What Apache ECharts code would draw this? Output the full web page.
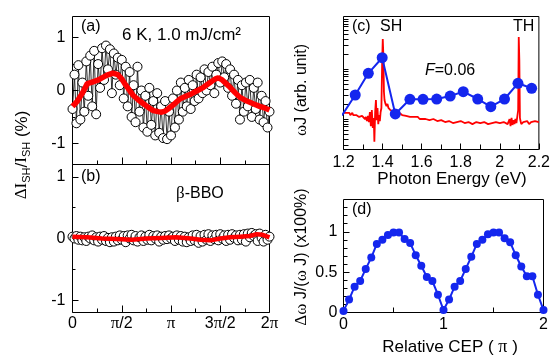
<!DOCTYPE html>
<html><head><meta charset="utf-8">
<script src="https://cdn.jsdelivr.net/npm/echarts@6/dist/echarts.min.js"></script>
<style>html,body{margin:0;padding:0;background:#fff}#c{width:553px;height:356px}</style>
</head><body><div id="c"></div>
<script>
// ---------- data ----------
// panel (a): relative CEP phase in units of pi, sampled every 0.02 pi
const phaseStep = 0.02;
const aCircles = [
 -0.35, 0.30, -0.62, 0.48, -0.55, 0.15, -0.40, 0.55, -0.10, 0.66,
 -0.30, 0.75, -0.45, 0.50, 0.05, 0.80, 0.20, 0.85, 0.40, 0.78,
 -0.05, 0.70, 0.30, 0.62, 0.10, 0.58, -0.15, 0.45, -0.30, 0.35,
 -0.50, 0.10, -0.60, 0.45, -0.40, 0.00, -0.70, -0.10, -0.78, 0.05,
 -0.65, -0.20, -0.85, -0.05, -0.80, -0.30, -0.90, -0.20, -0.92, -0.40,
 -0.85, -0.15, -0.70, 0.00, -0.55, 0.15, -0.40, 0.05, -0.30, 0.20,
 -0.35, 0.10, -0.20, 0.30, -0.15, 0.25, -0.05, 0.40, 0.00, 0.35,
 0.10, 0.45, -0.05, 0.30, 0.52, 0.15, 0.55, 0.25, 0.50, 0.05,
 0.40, -0.10, 0.30, -0.25, 0.20, -0.55, 0.10, -0.40, 0.15, -0.30,
 0.20, -0.50, 0.05, -0.35, 0.15, -0.55, -0.10, -0.60, -0.20, -0.70,
 -0.40
];
const aFitX = [0,0.05,0.1,0.15,0.2,0.25,0.3,0.35,0.41,0.46,0.5,0.53,0.58,0.62,0.67,0.72,0.77,0.82,0.87,0.905,0.94,0.97,1.03,1.09,1.15,1.21,1.27,1.33,1.39,1.45,1.48,1.52,1.56,1.6,1.65,1.7,1.77,1.835,1.9,1.95,2.0];
const aFitY = [-0.30,-0.2,-0.05,0.13,0.16,0.19,0.24,0.29,0.33,0.30,0.22,0.13,0.0,-0.1,-0.18,-0.25,-0.32,-0.38,-0.40,-0.41,-0.39,-0.35,-0.26,-0.16,-0.11,-0.06,0.0,0.06,0.14,0.22,0.24,0.2,0.13,0.06,-0.04,-0.13,-0.2,-0.25,-0.3,-0.33,-0.37];
// panel (b): beta-BBO reference
const bCircles = [
 0.03, 0.00, 0.04, -0.02, 0.03, -0.03, 0.02, -0.04, 0.03, 0.00,
 0.05, -0.03, 0.02, -0.05, 0.03, -0.02, 0.04, -0.04, 0.01, -0.06,
 0.02, -0.05, 0.03, -0.03, 0.05, -0.02, 0.04, -0.06, 0.05, 0.00,
 0.06, -0.03, 0.04, -0.05, 0.02, 0.05, -0.04, 0.03, -0.02, 0.06,
 -0.03, 0.04, 0.00, 0.05, -0.05, 0.03, -0.02, 0.04, -0.01, 0.05,
 0.00, 0.03, -0.04, 0.05, -0.02, 0.04, -0.05, 0.03, -0.06, 0.02,
 -0.04, 0.05, -0.03, 0.06, -0.07, 0.04, -0.05, 0.06, -0.02, 0.07,
 -0.04, 0.05, -0.01, 0.06, -0.03, 0.07, 0.00, 0.05, -0.04, 0.06,
 -0.02, 0.07, 0.01, 0.05, -0.03, 0.06, -0.02, 0.07, -0.05, 0.08,
 0.02, 0.09, 0.04, 0.07, -0.04, 0.08, 0.01, -0.05, 0.06, -0.02,
 0.03
];
const bFitX = [0,0.15,0.3,0.45,0.6,0.75,0.9,1.05,1.2,1.3,1.4,1.5,1.6,1.7,1.8,1.87,1.93,2.0];
const bFitY = [0.03,0.02,0.0,-0.01,-0.02,0.0,0.01,0.02,0.0,-0.02,-0.03,0.0,0.02,0.03,0.04,0.07,0.06,0.02];
// panel (c): spectrum (arb. unit, log scale)
const specE = [1.200,1.205,1.210,1.215,1.220,1.225,1.230,1.235,1.240,1.245,1.250,1.255,1.260,1.265,1.270,1.275,1.280,1.285,1.290,1.295,1.300,1.305,1.310,1.315,1.320,1.325,1.330,1.335,1.340,1.345,1.350,1.355,1.358,1.362,1.366,1.370,1.374,1.378,1.382,1.386,1.390,1.394,1.398,1.401,1.404,1.407,1.410,1.415,1.420,1.425,1.430,1.435,1.440,1.445,1.450,1.460,1.470,1.480,1.490,1.500,1.51,1.52,1.53,1.54,1.55,1.56,1.57,1.58,1.59,1.60,1.62,1.64,1.66,1.68,1.70,1.72,1.74,1.76,1.78,1.80,1.82,1.84,1.86,1.88,1.90,1.92,1.94,1.96,1.98,2.00,2.02,2.04,2.05,2.055,2.06,2.065,2.07,2.075,2.08,2.085,2.09,2.094,2.097,2.100,2.103,2.106,2.11,2.12,2.13,2.14,2.15,2.16,2.17,2.18,2.19,2.20];
const specI = [1.32,1.38,1.26,1.32,1.38,1.26,1.32,1.20,1.26,1.32,1.20,1.26,1.15,1.20,1.26,1.15,1.10,1.20,1.10,1.15,1.05,1.20,1.00,1.10,0.91,1.15,0.87,1.38,0.72,1.51,0.66,1.05,0.35,1.38,2.40,0.95,1.66,0.79,1.20,0.91,1.38,1.66,15.1,39.8,19.1,3.47,2.40,2.00,1.82,2.00,1.66,1.74,1.51,1.58,1.45,1.38,1.32,1.38,1.26,1.20,1.26,1.15,1.20,1.10,1.15,1.10,1.05,1.10,1.00,1.05,1.00,0.95,1.00,0.91,0.95,0.87,0.91,0.83,0.87,0.91,0.83,0.87,0.79,0.87,0.83,0.87,0.79,0.83,0.87,0.83,0.87,0.79,1.00,0.72,1.05,0.76,0.95,0.79,1.00,0.83,0.91,1.51,43.7,15.1,1.05,0.91,0.79,0.87,0.83,0.91,0.79,0.87,0.83,0.91,0.83,0.87];
const cDotE = [1.192,1.26,1.327,1.398,1.465,1.54,1.607,1.677,1.746,1.813,1.887,1.954,2.024,2.093,2.163];
const cDotI = [1.18,3.02,8.20,16.8,1.26,2.48,2.48,2.51,2.88,3.52,2.51,1.76,2.51,5.18,4.11];
const logTickVals = [0.3,0.4,0.5,0.6,0.7,0.8,0.9,1,2,3,4,5,6,7,8,9,10,20,30,40,50,60,70,80,90,100];
// panel (d): relative CEP (pi) vs modulation depth
const dStep = 1/18;
const dVals = [0.02,0.16,0.32,0.39,0.54,0.68,0.85,0.90,0.96,0.99,0.99,0.91,0.86,0.71,0.58,0.44,0.39,0.22,0.03,0.16,0.32,0.39,0.54,0.69,0.85,0.90,0.97,0.99,0.99,0.92,0.87,0.71,0.57,0.45,0.45,0.22,0.03];
// tick labels
const phaseTickVals = [0,0.5,1,1.5,2];
const phaseTickText = ['0','{g|\u03c0}/2','{g|\u03c0}','3{g|\u03c0}/2','2{g|\u03c0}'];
const abLabelVals = [-1,0,1];
const abMinorVals = [-0.5,0.5];
const dLabelVals = [0,0.5,1];
const dMinorVals = [0.1,0.2,0.3,0.4,0.6,0.7,0.8,0.9,1.1,1.2,1.3];

// ---------- chart ----------
const FONT = 'Liberation Sans';
const BLK = '#000';
const RED = '#ff0000';
const BLUE = '#1426ee';
const chart = echarts.init(document.getElementById('c'), null, {renderer:'canvas'});

const gridBase = {show:true, borderColor:BLK, borderWidth:1, containLabel:false, backgroundColor:'transparent'};
const lbl = (extra) => Object.assign({color:BLK, fontSize:16, fontFamily:FONT}, extra);
function xAx(grid, min, max, interval, split, showLabel, extra){
  return Object.assign({
    gridIndex:grid, type:'value', min, max, interval, position:'bottom',
    axisLine:{show:false, onZero:false},
    axisTick:{inside:true, length:7, lineStyle:{color:BLK}},
    minorTick:{show:true, splitNumber:split, length:4, lineStyle:{color:BLK}},
    splitLine:{show:false}, minorSplitLine:{show:false},
    axisLabel: lbl({show:showLabel})
  }, extra||{});
}
function yAx(grid, min, max, tickVals, labelVals, len, margin){
  return {
    gridIndex:grid, type:'value', min, max, position:'left',
    axisLine:{show:false, onZero:false},
    axisTick:{show:true, inside:true, length:len, customValues:tickVals, lineStyle:{color:BLK}},
    axisLabel: labelVals ? lbl({customValues:labelVals, margin:margin}) : {show:false},
    splitLine:{show:false}
  };
}
const circleSeries = (xi, yi, vals) => ({
  type:'line', xAxisIndex:xi, yAxisIndex:yi,
  data: vals.map((v,i)=>[i*phaseStep, v]),
  symbol:'circle', symbolSize:9, showAllSymbol:true,
  itemStyle:{color:'#fff', borderColor:BLK, borderWidth:1},
  lineStyle:{color:BLK, width:0.8}, z:2, silent:true, animation:false
});
const fitSeries = (xi, yi, xs, ys, w) => ({
  type:'line', xAxisIndex:xi, yAxisIndex:yi,
  data: xs.map((x,i)=>[x, ys[i]]), symbol:'none',
  lineStyle:{color:RED, width:w}, z:3, silent:true, animation:false
});
function txt(t, x, y, size){
  return {type:'text', x, y, silent:true, style:{text:t, font:size+'px '+FONT, fill:BLK, align:'left', verticalAlign:'middle', textAlign:'left', textVerticalAlign:'middle'}};
}

const option = {
  backgroundColor:'#fff',
  animation:false,
  grid:[
    Object.assign({left:72.5, top:16.5, width:197, height:148}, gridBase),
    Object.assign({left:72.5, top:164.5, width:197, height:148}, gridBase),
    Object.assign({left:343.5, top:16.5, width:200, height:133}, gridBase),
    Object.assign({left:343.5, top:199.5, width:200, height:113}, gridBase)
  ],
  xAxis:[
    xAx(0, 0, 2, 0.5, 2, false),
    xAx(1, 0, 2, 0.5, 2, true, {axisLabel: lbl({margin:3, formatter:(v)=>{const k=phaseTickVals.indexOf(v);return k>=0?phaseTickText[k]:'';}, rich:{g:{fontFamily:'Liberation Serif', fontSize:17, color:BLK}}})}),
    xAx(2, 1.2, 2.2, 0.2, 2, true, {axisTick:{inside:true, length:6, lineStyle:{color:BLK}}, minorTick:{show:true, splitNumber:2, length:5, lineStyle:{color:BLK}}, axisLabel: lbl({margin:5})}),
    xAx(3, 0, 2, 1, 2, true, {axisTick:{inside:true, length:6, lineStyle:{color:BLK}}, minorTick:{show:true, splitNumber:2, length:5, lineStyle:{color:BLK}}, axisLabel: lbl({margin:4})})
  ],
  yAxis:[
    yAx(0, -1.4, 1.4, abLabelVals, abLabelVals, 6, 7),
    yAx(0, -1.4, 1.4, abMinorVals, null, 3),
    yAx(1, -1.2, 1.2, abLabelVals, abLabelVals, 6, 7),
    yAx(1, -1.2, 1.2, abMinorVals, null, 3),
    yAx(2, -0.61, 2.05, logTickVals.map(v=>Math.log10(v)), null, 5),
    yAx(3, 0, 1.4, dLabelVals, dLabelVals, 6, 6),
    yAx(3, 0, 1.4, dMinorVals, null, 4)
  ],
  series:[
    circleSeries(0, 0, aCircles),
    fitSeries(0, 0, aFitX, aFitY, 5.5),
    circleSeries(1, 2, bCircles),
    fitSeries(1, 2, bFitX, bFitY, 4.5),
    {type:'line', xAxisIndex:2, yAxisIndex:4, data: specE.map((e,i)=>[e, Math.log10(specI[i])]),
     symbol:'none', lineStyle:{color:RED, width:1.8}, z:2, silent:true, clip:true},
    {type:'line', xAxisIndex:2, yAxisIndex:4, data: cDotE.map((e,i)=>[e, Math.log10(cDotI[i])]),
     symbol:'circle', symbolSize:11, showAllSymbol:true, itemStyle:{color:BLUE}, lineStyle:{color:BLUE, width:2}, z:3, silent:true, clip:true},
    {type:'line', xAxisIndex:3, yAxisIndex:5, data: dVals.map((v,i)=>[i*dStep, v]),
     symbol:'circle', symbolSize:8, showAllSymbol:true, itemStyle:{color:BLUE}, lineStyle:{color:BLUE, width:2}, z:3, silent:true, clip:false}
  ],
  graphic:[
    txt('(a)', 81, 27, 16),
    {type:'text', x:122, y:35, silent:true, style:{text:'6 K, 1.0 mJ/cm\u00b2', font:'17px '+FONT, fill:BLK, align:'left', verticalAlign:'middle', textAlign:'left', textVerticalAlign:'middle'}},
    txt('(b)', 81, 177, 16),
    {type:'text', x:176, y:194, silent:true, style:{text:'{g|\u03b2}-BBO', font:'16px '+FONT, fill:BLK, align:'left', verticalAlign:'middle', textAlign:'left', textVerticalAlign:'middle', rich:{g:{fontFamily:'Liberation Serif', fontSize:17, fill:BLK}}}},
    txt('(c)', 352, 27, 16),
    txt('SH', 380, 27, 16),
    txt('TH', 513, 27, 16),
    {type:'text', x:425, y:71, silent:true, style:{text:'{i|F}=0.06', font:'16px '+FONT, fill:BLK, align:'left', verticalAlign:'middle', textAlign:'left', textVerticalAlign:'middle', rich:{i:{fontStyle:'italic', fontSize:16, fontFamily:FONT, fill:BLK}}}},
    txt('(d)', 352, 210, 16),
    {type:'text', x:452, y:179, silent:true, style:{text:'Photon Energy (eV)', font:'17px '+FONT, fill:BLK, align:'center', verticalAlign:'middle', textAlign:'center', textVerticalAlign:'middle'}},
    {type:'text', x:450, y:347, silent:true, style:{text:'Relative CEP ( {g|\u03c0} )', font:'17px '+FONT, fill:BLK, align:'center', verticalAlign:'middle', textAlign:'center', textVerticalAlign:'middle', rich:{g:{fontFamily:'Liberation Serif', fontSize:18, fill:BLK}}}},
    {type:'text', x:22, y:155, rotation:Math.PI/2, silent:true, style:{text:'{g|\u0394I}{s|SH}{n|/}{g|I}{s|SH}{n| (%)}', font:'17px '+FONT, fill:BLK, align:'center', verticalAlign:'middle', textAlign:'center', textVerticalAlign:'middle',
      rich:{g:{fontFamily:'Liberation Serif', fontSize:17, fill:BLK, lineHeight:20}, s:{fontFamily:FONT, fontSize:11, fill:BLK, verticalAlign:'bottom', lineHeight:20}, n:{fontFamily:FONT, fontSize:17, fill:BLK, lineHeight:20}}}},
    {type:'text', x:302, y:90, rotation:Math.PI/2, silent:true, style:{text:'{g|\u03c9}J (arb. unit)', font:'16px '+FONT, fill:BLK, align:'center', verticalAlign:'middle', textAlign:'center', textVerticalAlign:'middle', rich:{g:{fontFamily:'Liberation Serif', fontSize:17, fill:BLK}}}},
    {type:'text', x:302, y:257, rotation:Math.PI/2, silent:true, style:{text:'{g|\u0394\u03c9} J/({g|\u03c9} J) (x100%)', font:'16px '+FONT, fill:BLK, align:'center', verticalAlign:'middle', textAlign:'center', textVerticalAlign:'middle', rich:{g:{fontFamily:'Liberation Serif', fontSize:17, fill:BLK}}}}
  ]
};
chart.setOption(option);
</script>
</body></html>
